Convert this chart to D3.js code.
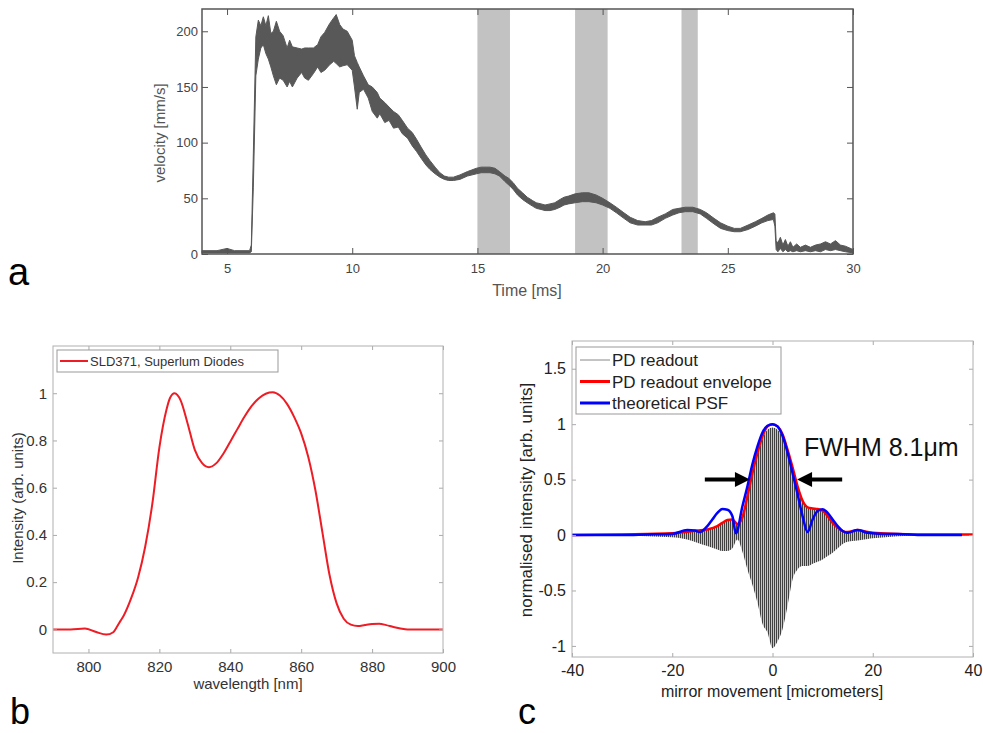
<!DOCTYPE html>
<html><head><meta charset="utf-8">
<script src="https://cdn.jsdelivr.net/npm/d3@7"></script>
<style>body{margin:0;background:#fff}text{font-family:"Liberation Sans",Arial,sans-serif}</style>
</head><body>
<svg id="fig" width="983" height="733"></svg>
<script>
// ---------- Panel a: velocity band ----------
const velTime = [4.0,4.6,5.0,5.3,5.9,5.97,6.05,6.15,6.25,6.35,6.45,6.55,6.65,6.75,6.85,6.97,7.1,7.24,7.4,7.5,7.61,7.8,7.98,8.1,8.25,8.45,8.62,8.75,8.9,9.1,9.26,9.36,9.5,9.63,9.8,10.0,10.09,10.2,10.28,10.45,10.64,10.8,11.0,11.1,11.3,11.47,11.65,11.84,12.0,12.21,12.4,12.57,12.75,12.94,13.1,13.31,13.5,13.68,13.85,14.04,14.3,14.6,14.96,15.15,15.5,15.7,15.88,16.1,16.25,16.43,16.6,16.8,16.99,17.2,17.35,17.54,17.7,17.9,18.09,18.3,18.46,18.64,18.9,19.19,19.45,19.74,20.0,20.29,20.55,20.85,21.1,21.4,21.7,21.95,22.2,22.5,22.8,23.05,23.3,23.6,23.9,24.15,24.45,24.71,25.0,25.26,25.5,25.81,26.1,26.36,26.6,26.82,26.88,26.93,27.0,27.1,27.2,27.3,27.4,27.5,27.6,27.75,27.9,28.1,28.3,28.5,28.7,28.9,29.1,29.3,29.5,29.7,30.0];
const velLow  = [1,1,1,1,1,2,60,160,175,185,188,180,175,168,160,152,158,156,150,155,150,158,163,158,156,162,168,163,165,170,173,171,168,169,170,165,150,130,145,148,140,128,122,126,118,120,113,114,108,104,97,92,86,80,76,72,69,67,66,66,67,70,72,73,73,72,70,65,62,58,53,49,46,43,41,40,39,39,40,42,44,45,46,47,47,46,44,41,37,32,28,26,26,26,28,32,35,37,38,38,36,32,27,23,21,20,20,22,25,28,30,31,25,4,2,5,2,4,2,3,2,3,2,3,2,3,2,4,3,4,3,2,1];
const velHigh = [3,3,5,3,3,8,90,195,210,205,213,205,214,198,200,209,200,196,185,192,186,185,184,185,185,185,188,195,199,207,212,215,206,202,200,192,178,172,168,160,152,150,145,140,136,132,128,125,120,113,109,103,96,89,84,78,73,70,69,69,71,74,77,78,78,77,74,70,68,64,59,55,51,48,46,45,44,45,46,49,51,52,54,55,55,53,50,46,42,37,33,30,29,30,33,36,40,41,42,42,40,37,32,28,25,23,23,26,29,32,35,37,36,12,10,15,8,13,7,11,6,9,6,8,6,8,9,11,9,12,8,7,4];
const shadeStart = [15.0, 18.9, 23.15];
const shadeEnd   = [16.3, 20.2, 23.8];
const aXTicks = [5,10,15,20,25,30];
const aYTicks = [0,50,100,150,200];

// ---------- Panel b: SLD spectrum ----------
const wavelength = [790,795,799,802,805,807,808,809,810,812,814,816,818,820,822,823,824.3,826,828,830,832,834,836,838,840,842,844,846,848,850,852,854,856,858,860,862,864,866,868,870,872,874,876,878,880,882,884,886,888,890,900];
const spectrum   = [0,0,0.004,-0.01,-0.022,-0.012,0.01,0.035,0.06,0.13,0.22,0.35,0.53,0.77,0.93,0.98,1.0,0.97,0.87,0.76,0.705,0.687,0.703,0.743,0.795,0.848,0.9,0.945,0.978,0.998,1.004,0.99,0.955,0.9,0.83,0.73,0.59,0.41,0.23,0.11,0.045,0.02,0.014,0.019,0.023,0.024,0.018,0.01,0.004,0.0,0.0];
const bXTicks = [800,820,840,860,880,900];
const bYTicks = [0,0.2,0.4,0.6,0.8,1];

// ---------- Panel c: interferogram ----------
const mirrorPos   = [-40,-30,-25,-20,-17,-15,-13,-11,-10,-9,-8,-7,-6,-5,-4,-3,-2,-1,0,1,2,3,4,5,6,7,8,9,10,11,12,13,14,15,17,19,20,25,30,40];
const envelope    = [0,0.005,0.01,0.015,0.03,0.04,0.05,0.08,0.11,0.135,0.14,0.10,0.16,0.35,0.56,0.74,0.89,0.98,1.0,0.98,0.91,0.77,0.61,0.44,0.31,0.25,0.24,0.235,0.22,0.17,0.11,0.066,0.036,0.027,0.045,0.027,0.02,0.01,0.005,0.005];
const readoutLow  = [0,-0.005,-0.01,-0.02,-0.04,-0.07,-0.1,-0.13,-0.145,-0.145,-0.12,-0.04,-0.15,-0.31,-0.45,-0.61,-0.8,-0.88,-1.02,-0.96,-0.85,-0.64,-0.4,-0.31,-0.28,-0.28,-0.26,-0.24,-0.22,-0.19,-0.16,-0.12,-0.08,-0.06,-0.05,-0.035,-0.03,-0.01,-0.005,0];
const psfPos      = [-40,-30,-25,-20,-17,-15.5,-14.5,-13,-12,-11,-10,-9,-8,-7.3,-6,-5,-4,-3,-2,-1,0,1,2,3,4,5,6,7,8,9,10,11,12,13,14,15,17,19,22,25,30,37.8];
const psf         = [0,0,0.005,0.01,0.045,0.04,0.027,0.08,0.14,0.2,0.235,0.228,0.17,0.015,0.26,0.44,0.64,0.8,0.925,0.985,1.0,0.98,0.895,0.745,0.56,0.37,0.17,0.027,0.14,0.217,0.232,0.2,0.14,0.08,0.036,0.02,0.045,0.02,0.01,0.01,0,0];
const cXTicks = [-40,-20,0,20,40];
const cYTicks = [-1,-0.5,0,0.5,1,1.5];
const arrowTail = [-13.5, 13.9];
const arrowTip  = [-4.5, 4.9];
const arrowLevel = 0.5;

const svg = d3.select("#fig");

function frame(g, x, y, xt, yt, o){
  const [x0,x1] = x.range(), [yb,yt0] = y.range();
  const fmt = d => String(d);
  const bx = g.append("g").attr("transform",`translate(0,${yb})`)
    .call(d3.axisBottom(x).tickValues(xt).tickSize(-o.tl).tickPadding(o.xpad).tickFormat(fmt));
  const tx = g.append("g").attr("transform",`translate(0,${yt0})`)
    .call(d3.axisTop(x).tickValues(xt).tickSize(-o.tl).tickFormat(""));
  const ly = g.append("g").attr("transform",`translate(${x0},0)`)
    .call(d3.axisLeft(y).tickValues(yt).tickSize(-o.tl).tickPadding(o.ypad).tickFormat(fmt));
  const ry = g.append("g").attr("transform",`translate(${x1},0)`)
    .call(d3.axisRight(y).tickValues(yt).tickSize(-o.tl).tickFormat(""));
  [bx,tx,ly,ry].forEach(a=>{
    a.select(".domain").remove();
    a.selectAll("line").attr("stroke",o.tick).attr("stroke-width",1);
    a.selectAll("text").attr("fill",o.text).style("font-family",o.font).style("font-size",o.fs+"px");
  });
  g.append("rect").attr("x",x0).attr("y",yt0).attr("width",x1-x0).attr("height",yb-yt0)
    .attr("fill","none").attr("stroke",o.axis).attr("stroke-width",o.sw);
}

const narrow = '"Liberation Sans Narrow","Arial Narrow","Liberation Sans",sans-serif';

// ===== Panel a =====
{
  const g = svg.append("g");
  const x = d3.scaleLinear().domain([4,30]).range([202,853]);
  const y = d3.scaleLinear().domain([0,220]).range([254,9]);
  shadeStart.forEach((s,i)=>{
    g.append("rect").attr("x",x(s)).attr("y",9).attr("width",x(shadeEnd[i])-x(s)).attr("height",245).attr("fill","#c2c2c2");
  });
  const data = velTime.map((t,i)=>({t,lo:velLow[i],hi:velHigh[i]}));
  g.append("path").datum(data)
    .attr("d", d3.area().x(d=>x(d.t)).y0(d=>y(d.lo)).y1(d=>y(d.hi)))
    .attr("fill","#585858").attr("stroke","#585858").attr("stroke-width",1);
  frame(g,x,y,aXTicks,aYTicks,{tl:6,xpad:10,ypad:4,axis:"#555",tick:"#555",sw:1.5,text:"#444",font:narrow,fs:13});
  g.append("text").attr("x",527).attr("y",296).attr("text-anchor","middle").attr("fill","#555")
    .style("font-family",narrow).style("font-size","16px").text("Time [ms]");
  g.append("text").attr("transform","translate(165,133) rotate(-90)").attr("text-anchor","middle").attr("fill","#555")
    .style("font-family",narrow).style("font-size","15px").text("velocity [mm/s]");
  svg.append("text").attr("x",8).attr("y",285).style("font-size","38px").attr("fill","#000").text("a");
}

// ===== Panel b =====
{
  const g = svg.append("g");
  const x = d3.scaleLinear().domain([790,900]).range([53,443]);
  const y = d3.scaleLinear().domain([-0.1,1.2]).range([653,346]);
  const pts = wavelength.map((w,i)=>[w,spectrum[i]]);
  g.append("path").datum(pts).attr("d",d3.line().x(d=>x(d[0])).y(d=>y(d[1])).curve(d3.curveMonotoneX))
    .attr("fill","none").attr("stroke","#ee1c24").attr("stroke-width",2);
  frame(g,x,y,bXTicks,bYTicks,{tl:4,xpad:8,ypad:6,axis:"#b0b0b0",tick:"#aaa",sw:1,text:"#333",
    font:'"Liberation Sans",Arial,sans-serif',fs:15});
  g.append("rect").attr("x",57).attr("y",350).attr("width",221).attr("height",22).attr("fill","#fff").attr("stroke","#999").attr("stroke-width",1);
  g.append("line").attr("x1",60).attr("x2",88).attr("y1",361).attr("y2",361).attr("stroke","#ee1c24").attr("stroke-width",2);
  g.append("text").attr("x",90).attr("y",366).attr("fill","#333").style("font-size","13px").text("SLD371, Superlum Diodes");
  g.append("text").attr("x",248).attr("y",689).attr("text-anchor","middle").attr("fill","#333").style("font-size","15px").text("wavelength [nm]");
  g.append("text").attr("transform","translate(23,498) rotate(-90)").attr("text-anchor","middle").attr("fill","#333").style("font-size","15px").text("Intensity (arb. units)");
  svg.append("text").attr("x",10).attr("y",724).style("font-size","36px").attr("fill","#000").text("b");
}

// ===== Panel c =====
{
  const g = svg.append("g");
  const x = d3.scaleLinear().domain([-40,40]).range([572,973]);
  const y = d3.scaleLinear().domain([-1.1,1.75]).range([657,341]);
  const defs = svg.append("defs");
  const pat = defs.append("pattern").attr("id","osc").attr("patternUnits","userSpaceOnUse").attr("width",2).attr("height",10);
  pat.append("rect").attr("width",2).attr("height",10).attr("fill","#c4c4c4");
  pat.append("rect").attr("x",0).attr("width",1).attr("height",10).attr("fill","#404040");
  const rd = mirrorPos.map((m,i)=>({m,lo:readoutLow[i],hi:envelope[i]*0.97}));
  g.append("path").datum(rd).attr("d",d3.area().x(d=>x(d.m)).y0(d=>y(d.lo)).y1(d=>y(d.hi)).curve(d3.curveMonotoneX))
    .attr("fill","url(#osc)");
  const env = mirrorPos.map((m,i)=>[m,envelope[i]]);
  g.append("path").datum(env).attr("d",d3.line().x(d=>x(d[0])).y(d=>y(d[1])).curve(d3.curveMonotoneX))
    .attr("fill","none").attr("stroke","#ff0000").attr("stroke-width",2.5);
  const ps = psfPos.map((m,i)=>[m,psf[i]]);
  g.append("path").datum(ps).attr("d",d3.line().x(d=>x(d[0])).y(d=>y(d[1])).curve(d3.curveMonotoneX))
    .attr("fill","none").attr("stroke","#0000ff").attr("stroke-width",2.5);
  frame(g,x,y,cXTicks,cYTicks,{tl:4,xpad:8,ypad:6,axis:"#b0b0b0",tick:"#aaa",sw:1,text:"#222",
    font:'"Liberation Sans",Arial,sans-serif',fs:16});
  // legend
  g.append("rect").attr("x",576).attr("y",347).attr("width",205).attr("height",67).attr("fill","#fff").attr("stroke","#999").attr("stroke-width",1);
  const leg = [["PD readout","#888",1],["PD readout envelope","#ff0000",3],["theoretical PSF","#0000ff",3]];
  leg.forEach((l,i)=>{
    const yy = 360 + i*21.5;
    g.append("line").attr("x1",580).attr("x2",610).attr("y1",yy).attr("y2",yy).attr("stroke",l[1]).attr("stroke-width",l[2]);
    g.append("text").attr("x",612).attr("y",yy+6).attr("fill","#222").style("font-size","17px").text(l[0]);
  });
  // FWHM arrows
  arrowTail.forEach((t,i)=>{
    const xt = x(t), xp = x(arrowTip[i]), yy = y(arrowLevel), dir = Math.sign(xp-xt);
    g.append("line").attr("x1",xt).attr("x2",xp-dir*10).attr("y1",yy).attr("y2",yy).attr("stroke","#000").attr("stroke-width",4);
    g.append("path").attr("d",`M${xp},${yy} L${xp-dir*15},${yy-7.5} L${xp-dir*15},${yy+7.5} Z`).attr("fill","#000");
  });
  g.append("text").attr("x",804).attr("y",456).attr("fill","#111").style("font-size","25px").text("FWHM 8.1μm");
  g.append("text").attr("x",772).attr("y",697).attr("text-anchor","middle").attr("fill","#222").style("font-size","16px").text("mirror movement [micrometers]");
  g.append("text").attr("transform","translate(532,500) rotate(-90)").attr("text-anchor","middle").attr("fill","#222").style("font-size","17px").text("normalised intensity [arb. units]");
  svg.append("text").attr("x",518).attr("y",724).style("font-size","36px").attr("fill","#000").text("c");
}
</script>
</body></html>
